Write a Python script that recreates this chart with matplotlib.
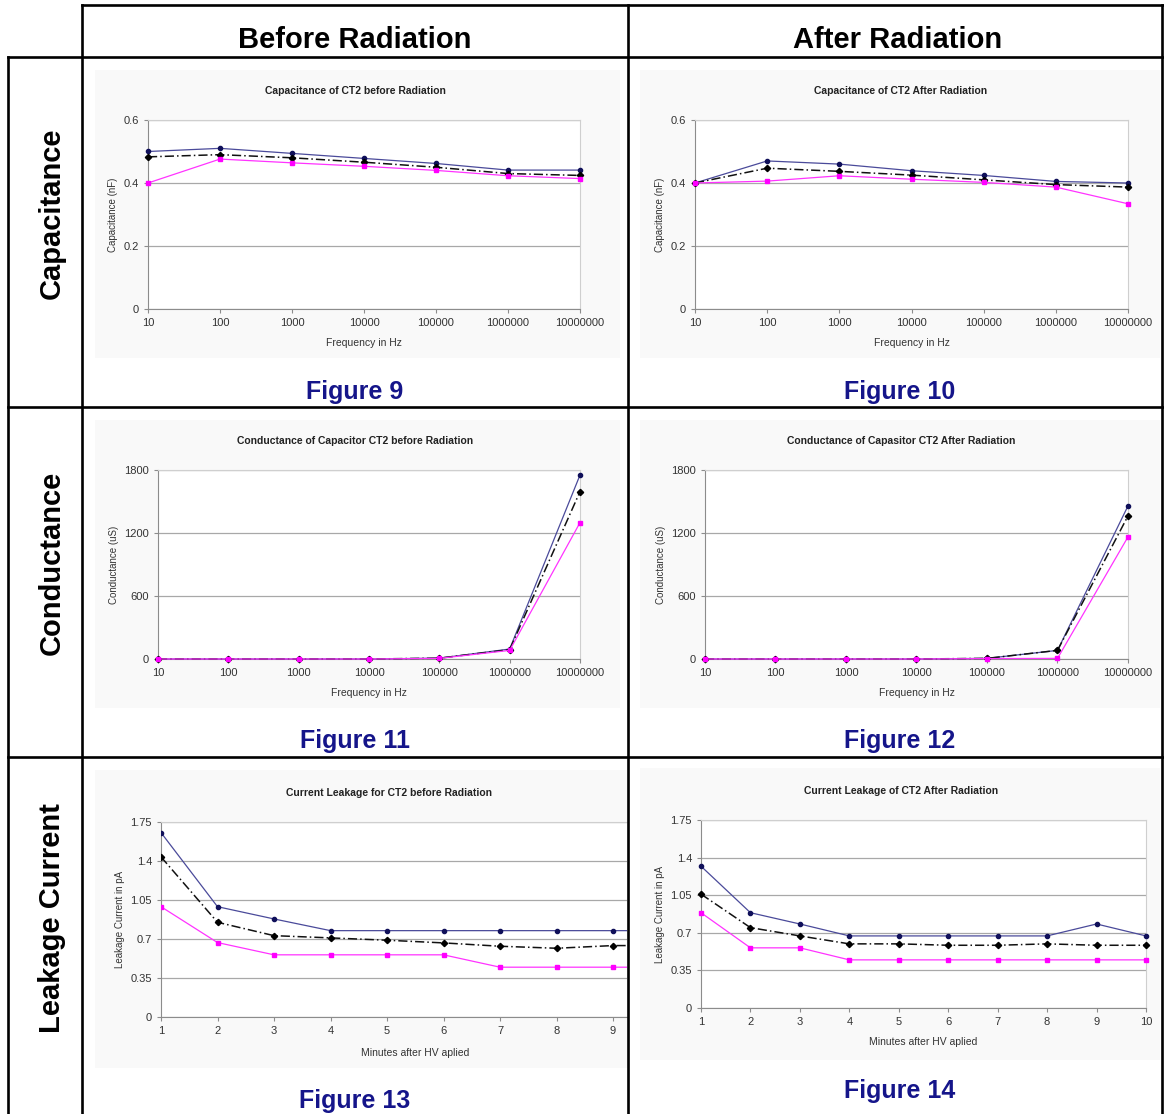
import matplotlib.pyplot as plt
from matplotlib.ticker import NullLocator

plt.rcParams['font.family'] = ['Liberation Sans', 'DejaVu Sans']

W, H = 1164, 1114

# ---- data ----
freq = [10, 100, 1000, 10000, 100000, 1000000, 10000000]
freq_labels = ["10", "100", "1000", "10000", "100000", "1000000", "10000000"]
minutes = [1, 2, 3, 4, 5, 6, 7, 8, 9, 10]

cap_before_blue = [0.500, 0.510, 0.494, 0.478, 0.462, 0.441, 0.441]
cap_before_black = [0.483, 0.490, 0.480, 0.466, 0.450, 0.430, 0.424]
cap_before_pink = [0.400, 0.476, 0.464, 0.453, 0.440, 0.423, 0.414]

cap_after_blue = [0.400, 0.470, 0.460, 0.439, 0.424, 0.405, 0.400]
cap_after_black = [0.400, 0.447, 0.437, 0.425, 0.410, 0.395, 0.387]
cap_after_pink = [0.400, 0.406, 0.423, 0.412, 0.402, 0.387, 0.334]

cond_before_blue = [0, 0, 0, 0, 8, 95, 1752]
cond_before_black = [0, 0, 0, 0, 8, 89, 1594]
cond_before_pink = [0, 0, 0, 0, 6, 82, 1299]

cond_after_blue = [0, 0, 0, 0, 6, 82, 1458]
cond_after_black = [0, 0, 0, 0, 6, 82, 1363]
cond_after_pink = [0, 0, 0, 0, 4, 6, 1163]

leak_before_blue = [1.655, 0.990, 0.880, 0.775, 0.775, 0.775, 0.775, 0.775, 0.775, 0.775]
leak_before_black = [1.437, 0.850, 0.730, 0.710, 0.689, 0.665, 0.635, 0.617, 0.641, 0.641]
leak_before_pink = [0.990, 0.668, 0.558, 0.558, 0.558, 0.558, 0.447, 0.447, 0.447, 0.447]

leak_after_blue = [1.320, 0.887, 0.782, 0.671, 0.671, 0.671, 0.671, 0.671, 0.782, 0.671]
leak_after_black = [1.060, 0.748, 0.671, 0.597, 0.597, 0.584, 0.584, 0.597, 0.584, 0.584]
leak_after_pink = [0.887, 0.560, 0.560, 0.448, 0.448, 0.448, 0.448, 0.448, 0.448, 0.448]

cap_ticks = [0, 0.2, 0.4, 0.6]
cond_ticks = [0, 600, 1200, 1800]
leak_ticks = [0, 0.35, 0.7, 1.05, 1.4, 1.75]
leak_tick_labels = ["0", "0.35", "0.7", "1.05", "1.4", "1.75"]

fig = plt.figure(figsize=(W / 100, H / 100), dpi=100)
fig.patch.set_facecolor('white')


def box(x0, y0, x1, y1):
    return [x0 / W, 1 - y1 / H, (x1 - x0) / W, (y1 - y0) / H]


# background layer with the grey chart areas
bg = fig.add_axes([0, 0, 1, 1], zorder=-1)
bg.set_xlim(0, W)
bg.set_ylim(H, 0)
bg.axis('off')
for (x0, y0, x1, y1) in [(95, 70, 620, 358), (640, 70, 1160, 358),
                         (95, 420, 620, 708), (640, 420, 1160, 708),
                         (95, 770, 628, 1068), (640, 768, 1160, 1060)]:
    bg.add_patch(plt.Rectangle((x0, y0), x1 - x0, y1 - y0, color='#f9f9f9', lw=0))


def style(ax, ticks, ylabel, xlabel, title, title_x):
    ax.set_facecolor('white')
    ax.set_yticks(ticks)
    ax.set_ylim(ticks[0], ticks[-1])
    ax.yaxis.grid(True, color='#a8a8a8', lw=0.9)
    ax.set_axisbelow(True)
    for s in ['top', 'right']:
        ax.spines[s].set_color('#cfcfcf')
    for s in ['left', 'bottom']:
        ax.spines[s].set_color('#8c8c8c')
    ax.tick_params(labelsize=8, colors='#8c8c8c', labelcolor='#333333', length=3, width=0.8)
    ax.set_ylabel(ylabel, fontsize=7, color='#333333')
    ax.set_xlabel(xlabel, fontsize=7.5, color='#333333', labelpad=7)
    ax.set_title(title, fontsize=7.5, fontweight='bold', color='#222222', pad=19, x=title_x)


def draw(ax, x, blue, black, pink):
    ax.plot(x, blue, color='#4a4a9a', lw=0.9, marker='o', ms=3, mfc='#10105a', mec='#10105a',
            clip_on=False, zorder=3)
    ax.plot(x, black, color='#111111', lw=1.1, ls=(0, (6, 2, 1, 2)), marker='D', ms=3.2,
            mfc='black', mec='black', clip_on=False, zorder=3)
    ax.plot(x, pink, color='#ff33ff', lw=0.9, marker='s', ms=3.4, mfc='#ff00ff', mec='#ff00ff',
            clip_on=False, zorder=3)


def freq_axis(ax):
    ax.set_xscale('log')
    ax.set_xlim(freq[0], freq[-1])
    ax.set_xticks(freq)
    ax.set_xticklabels(freq_labels)
    ax.xaxis.set_minor_locator(NullLocator())


# Figure 9
ax = fig.add_axes(box(148, 120, 580, 309))
draw(ax, freq, cap_before_blue, cap_before_black, cap_before_pink)
freq_axis(ax)
style(ax, cap_ticks, "Capacitance (nF)", "Frequency in Hz", "Capacitance of CT2 before Radiation", (355 - 148) / 432)
ax.set_yticklabels(["0", "0.2", "0.4", "0.6"])

# Figure 10
ax = fig.add_axes(box(695, 120, 1128, 309))
draw(ax, freq, cap_after_blue, cap_after_black, cap_after_pink)
freq_axis(ax)
style(ax, cap_ticks, "Capacitance (nF)", "Frequency in Hz", "Capacitance of CT2 After Radiation", (901 - 695) / 433)
ax.set_yticklabels(["0", "0.2", "0.4", "0.6"])

# Figure 11
ax = fig.add_axes(box(158, 470, 580, 659))
draw(ax, freq, cond_before_blue, cond_before_black, cond_before_pink)
freq_axis(ax)
style(ax, cond_ticks, "Conductance (uS)", "Frequency in Hz", "Conductance of Capacitor CT2 before Radiation", (355 - 158) / 422)

# Figure 12
ax = fig.add_axes(box(705, 470, 1128, 659))
draw(ax, freq, cond_after_blue, cond_after_black, cond_after_pink)
freq_axis(ax)
style(ax, cond_ticks, "Conductance (uS)", "Frequency in Hz", "Conductance of Capasitor CT2 After Radiation", (901 - 705) / 423)

# Figure 13 (cut off by the table cell on the right)
ax = fig.add_axes(box(161, 822, 627, 1017))
draw(ax, minutes, leak_before_blue, leak_before_black, leak_before_pink)
for ln in ax.lines:
    ln.set_clip_on(True)
ax.set_xlim(1, 1 + (627 - 161) / 56.5)
ax.set_xticks(minutes[:9])
style(ax, leak_ticks, "Leakage Current in pA", "Minutes after HV aplied",
      "Current Leakage for CT2 before Radiation", (389 - 161) / 466)
ax.set_yticklabels(leak_tick_labels)
ax.spines['right'].set_visible(False)
ax.xaxis.set_label_coords((415 - 161) / 466, -0.16)

# Figure 14
ax = fig.add_axes(box(701, 820, 1146, 1008))
draw(ax, minutes, leak_after_blue, leak_after_black, leak_after_pink)
ax.set_xlim(1, 10)
ax.set_xticks(minutes)
style(ax, leak_ticks, "Leakage Current in pA", "Minutes after HV aplied",
      "Current Leakage of CT2 After Radiation", (901 - 701) / 445)
ax.set_yticklabels(leak_tick_labels)

# table lines and labels on top
top = fig.add_axes([0, 0, 1, 1], zorder=10)
top.set_xlim(0, W)
top.set_ylim(H, 0)
top.axis('off')
lw = 1.9
top.plot([82, W], [5, 5], color='black', lw=lw)
for y in [57, 407, 757]:
    top.plot([8, W], [y, y], color='black', lw=lw)
top.plot([82, 82], [5, H], color='black', lw=lw)
top.plot([628, 628], [5, H], color='black', lw=lw)
top.plot([1162, 1162], [5, H], color='black', lw=lw)
top.plot([8, 8], [57, H], color='black', lw=lw)

top.text(355, 40, "Before Radiation", fontsize=21, fontweight='bold', ha='center', va='center')
top.text(898, 40, "After Radiation", fontsize=21, fontweight='bold', ha='center', va='center')
for y, s in [(213, "Capacitance"), (563, "Conductance"), (918, "Leakage Current")]:
    top.text(52, y, s, fontsize=21, fontweight='bold', rotation=90, ha='center', va='center')

navy = '#15158a'
for x, y, s in [(355, 392, "Figure 9"), (900, 392, "Figure 10"),
                (355, 741, "Figure 11"), (900, 741, "Figure 12"),
                (355, 1101, "Figure 13"), (900, 1091, "Figure 14")]:
    top.text(x, y, s, fontsize=18, fontweight='bold', color=navy, ha='center', va='center')

fig.savefig("out.png", dpi=100)
